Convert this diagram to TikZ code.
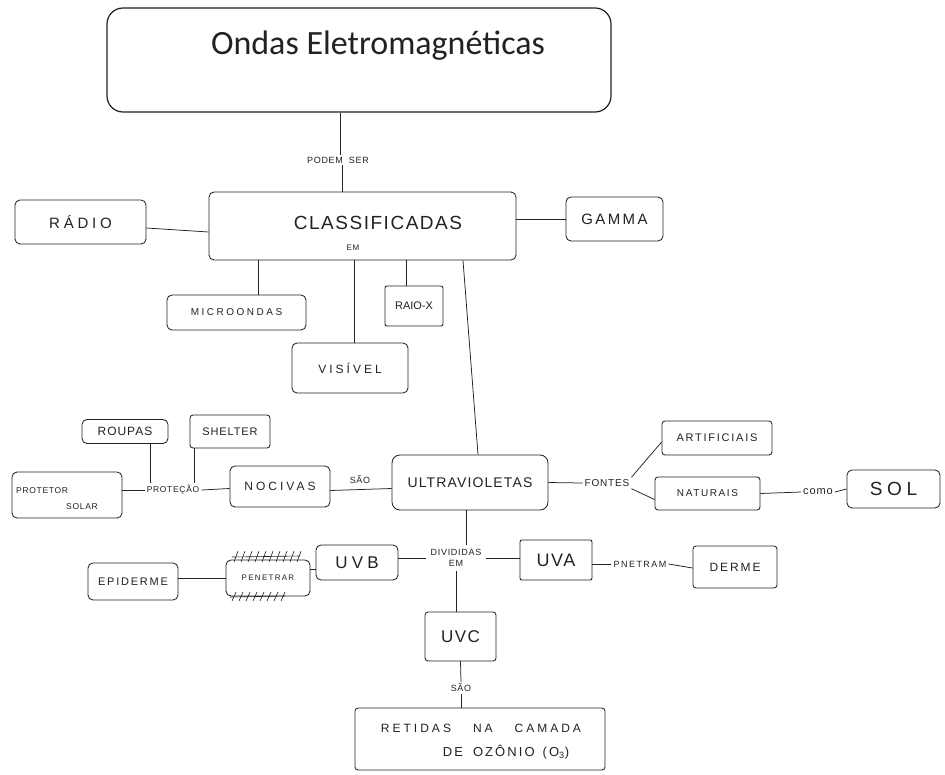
\documentclass[tikz,border=0pt]{standalone}
\usepackage{fontspec}
\setmainfont{Liberation Sans}
\newfontfamily\titlefont{Carlito}
\newfontfamily\hand[LetterSpace=8]{Liberation Sans}
\newfontfamily\handmid[LetterSpace=16]{Liberation Sans}
\newfontfamily\handwide[LetterSpace=25]{Liberation Sans}
\definecolor{inkc}{HTML}{222222}
\newcommand{\fs}[1]{\fontsize{#1}{#1}\selectfont}
\tikzset{
  ink/.style={draw=inkc, line width=0.85pt},
  box/.style={ink, rounded corners=5pt, inner sep=0pt, align=center, text=inkc},
  lbl/.style={inner sep=2pt, text=inkc, align=center},
  link/.style={ink, line width=0.75pt},
}
\begin{document}
\begin{tikzpicture}[x=1pt, y=-1pt]
\useasboundingbox[fill=white] (0,0) rectangle (945,774);

% title
\node[box, line width=1.2pt, rounded corners=16pt, minimum width=504pt, minimum height=104pt] (title) at (359,60) {};
\node[lbl, font=\titlefont\fs{34}] (titletxt) at (378,46) {Ondas Eletromagnéticas};
\node[lbl, font=\hand\fs{9}] (podem) at (338,160) {PODEM\hspace{6pt}SER};

% classification level
\node[box, minimum width=307pt, minimum height=68pt] (classif) at (362.5,226) {};
\node[lbl, font=\hand\fs{19}] (classiftxt) at (378,223) {CLASSIFICADAS};
\node[lbl, font=\hand\fs{8}] (em1) at (353,248) {EM};
\node[box, minimum width=131pt, minimum height=44pt, font=\handwide\fs{15}] (radio) at (80.5,222) {RÁDIO};
\node[box, minimum width=97pt, minimum height=44pt, font=\handmid\fs{15}] (gamma) at (614.5,219) {GAMMA};
\node[box, minimum width=139pt, minimum height=35pt, font=\handwide\fs{10}] (micro) at (236.5,312.5) {MICROONDAS};
\node[box, rounded corners=2pt, minimum width=58pt, minimum height=40pt, font=\fs{11}] (raiox) at (414,306) {RAIO-X};
\node[box, minimum width=116pt, minimum height=50pt, font=\handwide\fs{12}] (visivel) at (350,368) {VISÍVEL};

% ultraviolet
\node[box, rounded corners=8pt, minimum width=156pt, minimum height=55pt, font=\hand\fs{14}] (ultra) at (470,482.5) {ULTRAVIOLETAS};
\node[box, minimum width=100pt, minimum height=41pt, font=\handwide\fs{12}] (nocivas) at (280,486.5) {NOCIVAS};
\node[lbl, font=\hand\fs{9}] (sao1) at (360,480) {SÃO};
\node[lbl, font=\hand\fs{8.5}] (protecao) at (173,490) {PROTEÇÃO};
\node[box, minimum width=110pt, minimum height=46pt] (protetor) at (67,495) {};
\node[lbl, font=\hand\fs{8.5}, anchor=west] (protetortxt) at (14,491) {PROTETOR};
\node[lbl, font=\hand\fs{8.5}] (solartxt) at (82,507) {SOLAR};
\node[box, minimum width=86pt, minimum height=24pt, font=\hand\fs{12}] (roupas) at (125,431.5) {ROUPAS};
\node[box, rounded corners=3pt, minimum width=80pt, minimum height=33pt, font=\hand\fs{11}] (shelter) at (230,431.5) {SHELTER};

% sources
\node[lbl, font=\hand\fs{10}] (fontes) at (607,483) {FONTES};
\node[box, rounded corners=3pt, minimum width=110pt, minimum height=34pt, font=\handmid\fs{11}] (artif) at (717,438) {ARTIFICIAIS};
\node[box, rounded corners=3pt, minimum width=105pt, minimum height=33pt, font=\handmid\fs{10}] (natur) at (707.5,493.5) {NATURAIS};
\node[lbl, font=\hand\fs{11}] (como) at (818,492) {como};
\node[box, minimum width=93pt, minimum height=38pt, font=\handwide\fs{19}] (sol) at (893.5,489) {SOL};

% subdivisions
\node[lbl, font=\hand\fs{9}, inner sep=4pt] (divid) at (456,558) {DIVIDIDAS\\[2pt]EM};
\node[box, minimum width=82pt, minimum height=35pt, font=\handwide\fs{17}] (uvb) at (357,562.5) {UVB};
\node[box, minimum width=84pt, minimum height=36pt, font=\handmid\fs{8}] (penetrar) at (268,578) {PENETRAR};
\node[box, minimum width=90pt, minimum height=37pt, font=\handmid\fs{11}] (epiderme) at (133,581.5) {EPIDERME};
\node[box, rounded corners=2pt, minimum width=72pt, minimum height=40pt, font=\hand\fs{18}] (uva) at (556,560) {UVA};
\node[lbl, font=\handmid\fs{9}] (pnetram) at (640,564) {PNETRAM};
\node[box, rounded corners=3pt, minimum width=84pt, minimum height=42pt, font=\handmid\fs{12}] (derme) at (735,567) {DERME};
\node[box, rounded corners=3pt, minimum width=71pt, minimum height=49pt, font=\hand\fs{17}] (uvc) at (460.5,636.5) {UVC};
\node[lbl, font=\hand\fs{9}] (sao2) at (461,688) {SÃO};
\node[box, rounded corners=3pt, minimum width=250pt, minimum height=62pt] (retidas) at (480,739) {};
\node[lbl, font=\handwide\fs{12}] (ret1) at (481,728) {RETIDAS\hspace{22pt}NA\hspace{22pt}CAMADA};
\node[lbl, font=\handmid\fs{13}] (ret2) at (506,752) {DE\hspace{10pt}OZÔNIO\hspace{8pt}(O\textsubscript{3})};

% hatching on the PENETRAR box
\begin{scope}[shift={(penetrar.center)}, link, line width=0.6pt]
  \draw (-36,-21) -- (32,-22);
  \foreach \dx in {-34,-27,...,30} \draw (\dx,-16) -- (\dx+4,-27);
  \draw (-38,19) -- (17,18);
  \foreach \dx in {-36,-29,...,16} \draw (\dx,23) -- (\dx+4,14);
\end{scope}

% attachment points on the boxes
\coordinate (titleout) at ([xshift=-19pt]title.south);
\coordinate (classifin) at ([xshift=-20pt]classif.north);
\coordinate (ultraout) at ([xshift=-4pt]ultra.south);

% connectors
\draw[link] (titleout) -- (titleout |- podem.north);
\draw[link] (classifin |- podem.south) -- (classifin);
\draw[link] ([yshift=-6pt]radio.east) -- ([yshift=-6pt]classif.west);
\draw[link] (classif.east |- gamma.west) -- (gamma.west);
\draw[link] ([xshift=21.5pt]micro.north) -- ([xshift=21.5pt]micro.north |- classif.south);
\draw[link] ([xshift=-8pt]raiox.north) -- ([xshift=-8pt]raiox.north |- classif.south);
\draw[link] ([xshift=4pt]visivel.north) -- ([xshift=4pt]visivel.north |- classif.south);
\draw[link] ([xshift=100.5pt]classif.south) -- ([xshift=8pt]ultra.north);

\draw[link] ([yshift=-6pt]ultra.west) -- ([yshift=-4pt]nocivas.east);
\draw[link] ([yshift=-2pt]nocivas.west) -- (protecao.east);
\draw[link] (protecao.west) -- (protetor.east |- protecao.west);
\draw[link] ([xshift=25pt]roupas.south) -- ([xshift=-23pt]protecao.north);
\draw[link] ([xshift=-36pt]shelter.south) -- ([xshift=21pt]protecao.north);

\draw[link] (ultra.east) -- (fontes.west);
\draw[link] (fontes.north east) -- ([yshift=-4pt]artif.west);
\draw[link] (fontes.south east) -- ([yshift=-6pt]natur.west);
\draw[link] (natur.east) -- (como.west);
\draw[link] (como.east) -- (sol.west);

\draw[link] (ultraout) -- (ultraout |- divid.north);
\draw[link] (divid.west) -- (uvb.east |- divid.west);
\draw[link] ([yshift=-7pt]uvb.west) -- ([yshift=-7pt]uvb.west -| penetrar.east);
\draw[link] (penetrar.west) -- (epiderme.east |- penetrar.west);
\draw[link] (divid.east) -- (uva.west |- divid.east);
\draw[link] ([yshift=-4pt]uva.east) -- (pnetram.west);
\draw[link] (pnetram.east) -- ([yshift=-4pt]pnetram.east -| derme.west);
\draw[link] (divid.south) -- (divid.south |- uvc.north);
\draw[link] (uvc.south) -- (sao2.north);
\draw[link] (sao2.south) -- (sao2.south |- retidas.north);
\end{tikzpicture}
\end{document}
